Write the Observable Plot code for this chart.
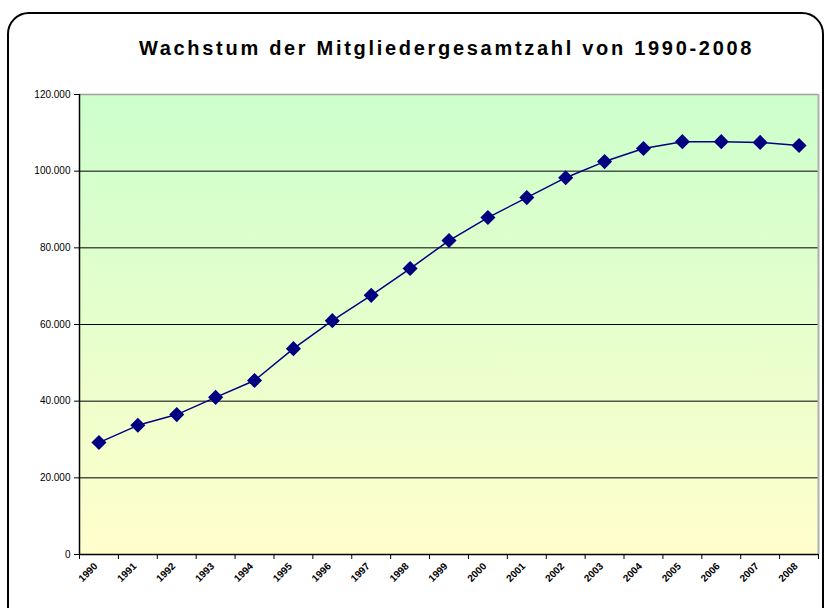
<!DOCTYPE html>
<html><head><meta charset="utf-8">
<script src="https://cdn.jsdelivr.net/npm/d3@7"></script>
<script src="https://cdn.jsdelivr.net/npm/@observablehq/plot@0.6"></script>
<style>
body{margin:0;background:#fff;width:826px;height:608px;overflow:hidden;position:relative;font-family:"Liberation Sans",Arial,sans-serif;}
#frame{position:absolute;left:7px;top:12px;width:817px;height:640px;border:2px solid #000;border-radius:22px;box-sizing:border-box;}
#title{position:absolute;top:37px;left:0;width:893px;text-align:center;font-weight:bold;font-size:20px;letter-spacing:2.7px;color:#000;}
#chart{position:absolute;left:0;top:0;}
</style></head><body>
<div id="frame"></div>
<div id="title">Wachstum der Mitgliedergesamtzahl von 1990-2008</div>
<div id="chart"></div>
<script>
const years = [1990,1991,1992,1993,1994,1995,1996,1997,1998,1999,2000,2001,2002,2003,2004,2005,2006,2007,2008];
const members = [29200,33700,36500,41000,45400,53700,61000,67600,74600,81900,87900,93100,98300,102500,105900,107700,107700,107500,106700];
const yTicks = [0,20000,40000,60000,80000,100000,120000];

const fmt = d => d3.format(",")(d).replace(/,/g, ".");
const data = years.map((year, i) => ({year, value: members[i]}));
const bounds = years.map(y => y - 0.5).concat([years[years.length - 1] + 0.5]);

const plot = Plot.plot({
  width: 826, height: 608,
  marginLeft: 79, marginRight: 8, marginTop: 94, marginBottom: 54,
  style: {background: "transparent", fontFamily: "Liberation Sans, Arial, sans-serif", color: "#000"},
  x: {type: "linear", domain: [bounds[0], bounds[bounds.length - 1]]},
  y: {domain: [0, 120000]},
  marks: [
    Plot.frame({fill: "url(#bggrad)", stroke: "none"}),
    Plot.gridY(yTicks.slice(1, -1), {stroke: "#000", strokeOpacity: 1, strokeWidth: 1}),
    Plot.ruleY([120000], {stroke: "#a0a0a0", strokeWidth: 1.5}),
    Plot.ruleX([bounds[bounds.length - 1]], {stroke: "#b0b0b0", strokeWidth: 2}),
    Plot.ruleX([bounds[0]], {stroke: "#000", strokeWidth: 1.5}),
    Plot.ruleY([0], {stroke: "#000", strokeWidth: 1.5}),
    Plot.axisY({ticks: yTicks, tickFormat: fmt, tickSize: 5, tickPadding: 4, fontSize: 10, label: null}),
    Plot.axisX({ticks: bounds, tickFormat: () => "", tickSize: 5, label: null}),
    Plot.axisX({ticks: years, tickFormat: d => String(d), tickSize: 0, tickPadding: 10, tickRotate: -45, fontSize: 10, dx: -3, fontWeight: "bold", label: null}),
    Plot.line(data, {x: "year", y: "value", stroke: "#000080", strokeWidth: 1.5}),
    Plot.dot(data, {x: "year", y: "value", symbol: "diamond2", r: 6.8, fill: "#000080", stroke: "none"})
  ]
});

const ns = "http://www.w3.org/2000/svg";
const defs = document.createElementNS(ns, "defs");
defs.innerHTML = '<linearGradient id="bggrad" x1="0" y1="0" x2="0" y2="1"><stop offset="0" stop-color="#ccffcc"/><stop offset="1" stop-color="#ffffcc"/></linearGradient>';
plot.insertBefore(defs, plot.firstChild);
document.getElementById("chart").appendChild(plot);
</script>
</body></html>
